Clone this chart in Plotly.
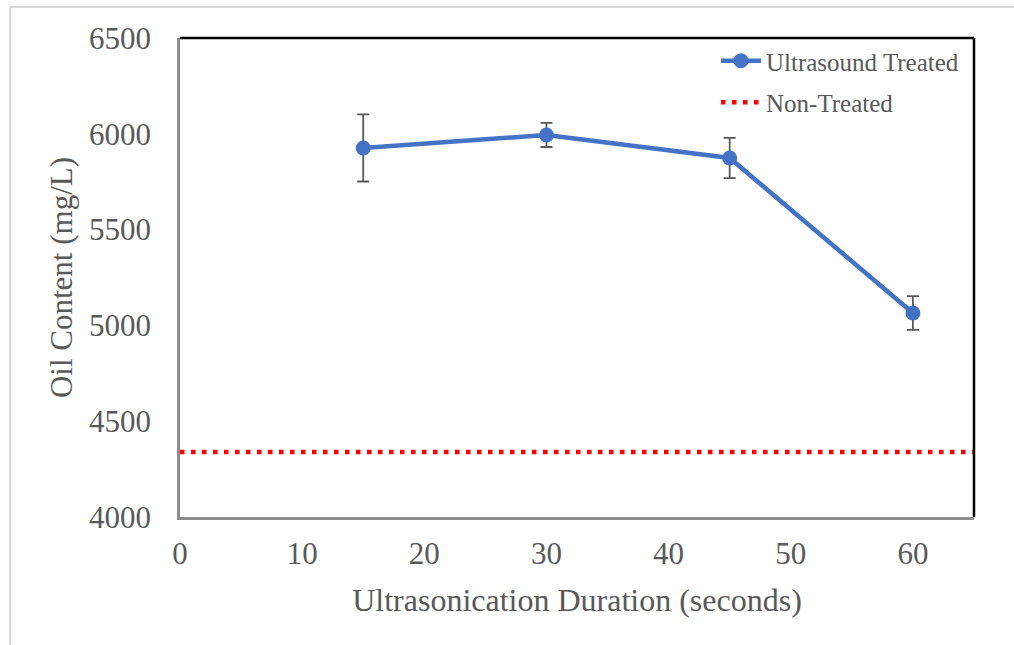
import plotly.graph_objects as go

# ---- data ----
durations = [15, 30, 45, 60]
oil_treated = [5926, 5994, 5874, 5065]
oil_err = [175, 63, 105, 88]
nontreated_value = 4339
x_range = [0, 65]
y_range = [4000, 6500]
x_ticks = [0, 10, 20, 30, 40, 50, 60]
y_ticks = [4000, 4500, 5000, 5500, 6000, 6500]

FONT = "Liberation Serif, Times New Roman, serif"
TXT = "#595959"

W, H = 1014, 645
ML, MR, MT, MB = 180, 40, 38, 128
PW, PH = W - ML - MR, H - MT - MB


def px2paper_x(px):
    return (px - ML) / PW


def px2paper_y(py):
    return (H - MB - py) / PH


fig = go.Figure()

fig.add_trace(go.Scatter(
    x=durations, y=oil_treated, mode="lines+markers", name="Ultrasound Treated",
    legendgroup="a",
    line=dict(color="#4472C4", width=4.5),
    marker=dict(color="#4472C4", size=15),
    error_y=dict(type="data", array=oil_err, visible=True, color="#595959", thickness=1.8, width=6),
))

fig.add_trace(go.Scatter(
    x=x_range, y=[nontreated_value, nontreated_value], mode="lines", name="Non-Treated",
    legendgroup="b",
    line=dict(color="#FF0000", width=4.5, dash="4.5px,6.5px"),
))

shapes = [
    # black top and right frame of plot area
    dict(type="line", xref="x domain", yref="y domain", x0=0, x1=1, y0=1, y1=1,
         line=dict(color="black", width=2.5)),
    dict(type="line", xref="x domain", yref="y domain", x0=1, x1=1, y0=0, y1=1,
         line=dict(color="black", width=2.5)),
    # light gray outer frame (top and left)
    dict(type="line", xref="paper", yref="paper", x0=px2paper_x(10), x1=px2paper_x(1020),
         y0=px2paper_y(7), y1=px2paper_y(7), line=dict(color="#d9d9d9", width=2)),
    dict(type="line", xref="paper", yref="paper", x0=px2paper_x(10), x1=px2paper_x(10),
         y0=px2paper_y(7), y1=px2paper_y(650), line=dict(color="#d9d9d9", width=2)),
]

fig.update_layout(
    width=W, height=H,
    margin=dict(l=ML, r=MR, t=MT, b=MB, pad=0),
    paper_bgcolor="white", plot_bgcolor="white",
    font=dict(family=FONT, color=TXT, size=31),
    showlegend=True,
    legend=dict(
        x=px2paper_x(716), y=px2paper_y(38), xanchor="left", yanchor="top",
        bgcolor="rgba(0,0,0,0)", font=dict(size=25, color=TXT, family=FONT),
        itemwidth=40, tracegroupgap=6, traceorder="grouped",
    ),
    shapes=shapes,
    xaxis=dict(
        range=x_range, tickvals=x_ticks, showgrid=False, zeroline=False,
        showline=True, linecolor="#8c8c8c", linewidth=2.5, ticks="",
        tickfont=dict(size=31, color=TXT, family=FONT),
        title=dict(text="Ultrasonication Duration (seconds)", font=dict(size=32, color=TXT, family=FONT), standoff=19),
        ticklabelstandoff=7,
    ),
    yaxis=dict(
        range=y_range, tickvals=y_ticks, showgrid=False, zeroline=False,
        showline=True, linecolor="#8c8c8c", linewidth=2.5, ticks="",
        tickfont=dict(size=31, color=TXT, family=FONT),
        title=dict(text="Oil Content (mg/L)", font=dict(size=31, color=TXT, family=FONT), standoff=8),
        ticklabelstandoff=20,
    ),
)

fig.write_html("out.html")
